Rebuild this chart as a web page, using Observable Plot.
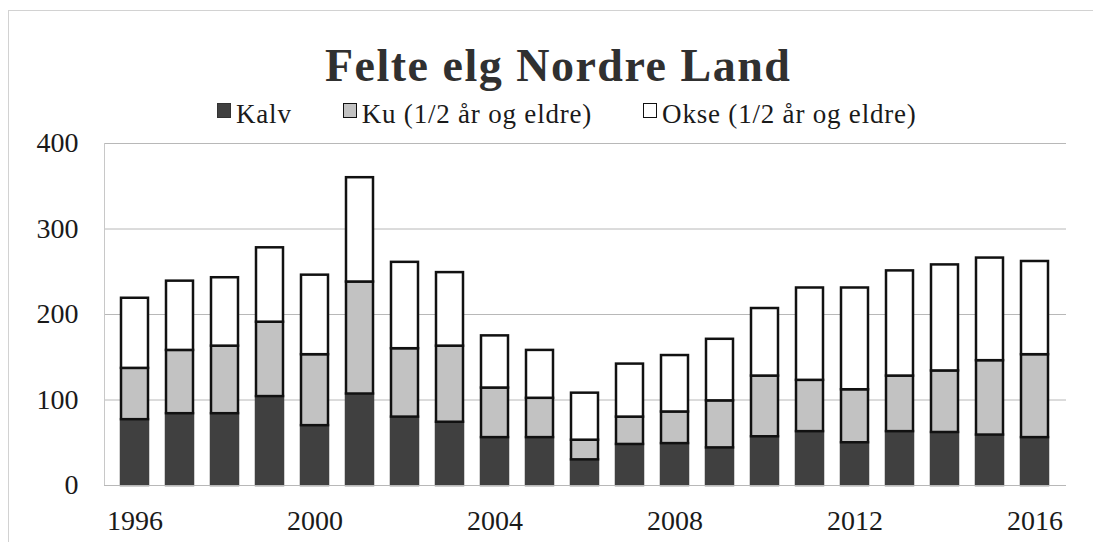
<!DOCTYPE html>
<html>
<head>
<meta charset="utf-8">
<script src="https://cdn.jsdelivr.net/npm/d3@7"></script>
<script src="https://cdn.jsdelivr.net/npm/@observablehq/plot@0.6"></script>
<style>
  html, body { margin: 0; padding: 0; background: #fff; }
  #wrap { position: relative; width: 1093px; height: 542px; overflow: hidden; font-family: "Liberation Serif", "DejaVu Serif", serif; color: #1a1a1a; }
  #frame { position: absolute; left: 8px; top: 10px; width: 1100px; height: 560px; border: 1px solid #d2d2d2; box-sizing: border-box; }
  #title { position: absolute; left: 325px; top: 38px; white-space: nowrap; font-size: 46px; font-weight: bold; color: #303030; letter-spacing: 1.5px; line-height: 56px; }
  #legend { position: absolute; left: 217px; top: 99px; display: flex; gap: 51px; font-size: 27px; letter-spacing: 0.8px; line-height: 30px; white-space: nowrap; }
  .item { display: flex; align-items: flex-start; }
  .sw { display: inline-block; width: 12px; height: 13px; border: 1.6px solid #111; margin-top: 4px; margin-right: 5px; }
  #chart { position: absolute; left: 0; top: 128px; }
</style>
</head>
<body>
<div id="wrap">
  <div id="frame"></div>
  <div id="title">Felte elg Nordre Land</div>
  <div id="legend"></div>
  <div id="chart"></div>
</div>
<script>
const years = [1996,1997,1998,1999,2000,2001,2002,2003,2004,2005,2006,2007,2008,2009,2010,2011,2012,2013,2014,2015,2016];
const kalv = [77,84,84,104,70,107,80,74,56,56,30,48,49,44,57,63,50,63,62,59,56];
const ku   = [60,74,79,87,83,131,80,89,58,46,23,32,37,55,71,60,62,65,72,87,97];
const okse = [82,81,80,87,93,122,101,86,61,56,55,62,66,72,79,108,119,123,124,120,109];
const seriesNames = ["Kalv", "Ku (1/2 år og eldre)", "Okse (1/2 år og eldre)"];
const seriesFill = ["#404040", "#c2c2c2", "#ffffff"];
const seriesStroke = ["#404040", "#111111", "#111111"];
const yTicks = [0, 100, 200, 300, 400];
const xTicks = [1996, 2000, 2004, 2008, 2012, 2016];

const seriesValues = [kalv, ku, okse];
const data = [];
seriesNames.forEach((name, s) => {
  years.forEach((yr, i) => {
    data.push({year: yr, type: name, value: seriesValues[s][i], stroke: seriesStroke[s]});
  });
});

// legend
const legend = document.getElementById("legend");
seriesNames.forEach((name, s) => {
  const it = document.createElement("span");
  it.className = "item";
  const sw = document.createElement("span");
  sw.className = "sw";
  sw.style.background = seriesFill[s];
  if (s === 0) sw.style.borderColor = "#333";
  it.appendChild(sw);
  it.appendChild(document.createTextNode(name));
  legend.appendChild(it);
});

const chart = Plot.plot({
  width: 1093,
  height: 414,
  marginTop: 15,
  marginBottom: 57,
  marginLeft: 104,
  marginRight: 27,
  style: { fontFamily: "Liberation Serif, DejaVu Serif, serif", fontSize: "28px", color: "#1a1a1a", background: "transparent", overflow: "visible" },
  x: { type: "band", domain: years, paddingInner: 0.39, paddingOuter: 0.195, label: null },
  y: { domain: [0, 400], label: null },
  color: { domain: seriesNames, range: seriesFill },
  marks: [
    Plot.gridY(yTicks, { stroke: "#b8b8b8", strokeOpacity: 1, strokeWidth: 1 }),
    Plot.frame({ anchor: "left", stroke: "#c8c8c8" }),
    Plot.barY(data, {
      x: "year", y: "value", fill: "type", stroke: "stroke", strokeWidth: 2.5,
      order: seriesNames
    }),
    Plot.ruleY([0], { stroke: "#b8b8b8" }),
    Plot.axisY({ ticks: yTicks, tickSize: 0, tickPadding: 26, label: null }),
    Plot.axisX({ ticks: xTicks, tickSize: 0, tickPadding: 25, tickFormat: d => String(d), label: null })
  ]
});
document.getElementById("chart").appendChild(chart);
</script>
</body>
</html>
